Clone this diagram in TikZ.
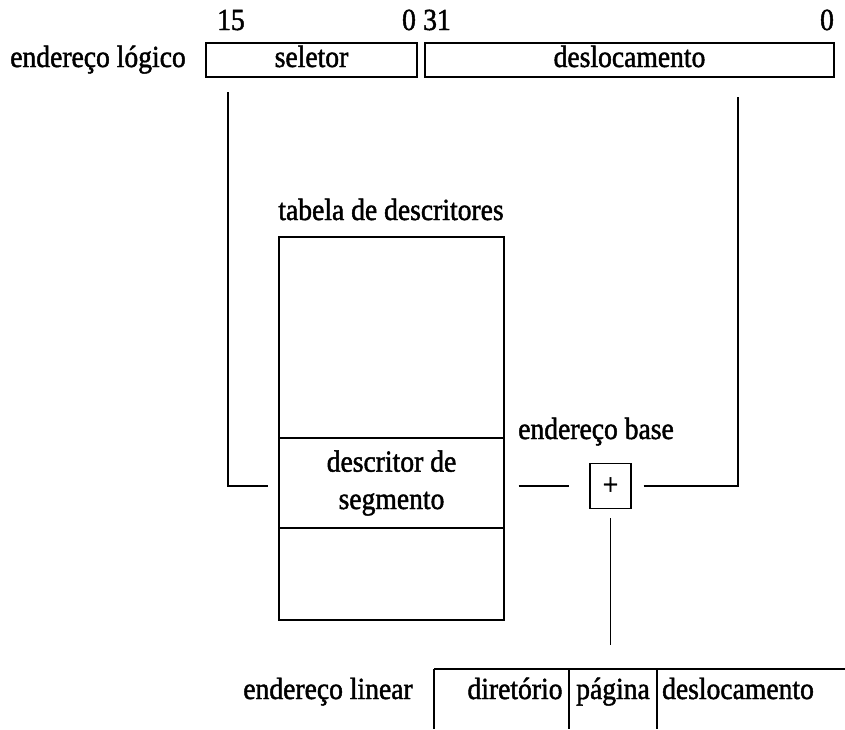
\documentclass[tikz,border=0pt]{standalone}
\usepackage{fontspec}
\setmainfont{Liberation Serif}[FakeStretch=0.9,FakeBold=1.5]
\begin{document}
\begin{tikzpicture}[x=0.75pt,y=-0.75pt,line width=0.9pt,
  every node/.style={font=\fontsize{23}{28}\selectfont,inner sep=0pt},
  field/.style={draw,minimum height=25.5pt,inner sep=0pt,text height=15.5pt,text depth=5pt},
  tablecell/.style={draw,minimum width=168.75pt,inner sep=0pt},
  label/.style={inner sep=0pt,anchor=base}]
\useasboundingbox (0,0) rectangle (845,729);

% logical address: selector and offset fields
\node[label] (lognm) at (98,67) {endereço lógico};
\node[field,minimum width=158.25pt] (sel) at (311.5,60) {seletor};
\node[field,minimum width=306.75pt] (off) at (629.5,60) {deslocamento};
\node[label] (b15) at (231,30) {15};
\node[label] (b0a) at (409,30) {0};
\node[label] (b31) at (437,30) {31};
\node[label] (b0b) at (827,30) {0};

% descriptor table
\node[label] (tabnm) at (391,220) {tabela de descritores};
\node[tablecell,minimum height=150.75pt] (tabtop) at (391.5,337.5) {};
\node[tablecell,minimum height=67.5pt,align=center] (desc) at (391.5,483) {descritor de\\segmento};
\node[tablecell,minimum height=69pt] (tabbot) at (391.5,574) {};

% adder
\node[label] (basenm) at (596,439) {endereço base};
\node[draw,minimum width=30.75pt,minimum height=33.75pt] (plus) at (610.5,486) {+};

% connectors
\coordinate (selfoot) at (228,92);
\coordinate (selend) at (268,486);
\draw (selfoot) |- (selend);
\coordinate (offfoot) at (738,97);
\draw[shorten <=9pt] (plus.east) -| (offfoot);
\draw[shorten <=10.5pt,shorten >=15pt] (desc.east |- plus.west) -- (plus.west);
\coordinate (linfoot) at (610.5,645);
\draw[shorten <=6.75pt] (plus.south) -- (linfoot);

% linear address fields
\coordinate (linL) at (434,669);
\coordinate (linR) at (845,669);
\coordinate (linD) at (569,669);
\coordinate (linP) at (657,669);
\draw (linL) -- (linR);
\draw (linL) -- ++(0,60);
\draw (linD) -- ++(0,60);
\draw (linP) -- ++(0,60);
\node[label] (linnm) at (328,699) {endereço linear};
\node[label] (dirnm) at (515,699) {diretório};
\node[label] (pagnm) at (613,699) {página};
\node[label] (dslnm) at (738,699) {deslocamento};
\end{tikzpicture}
\end{document}
